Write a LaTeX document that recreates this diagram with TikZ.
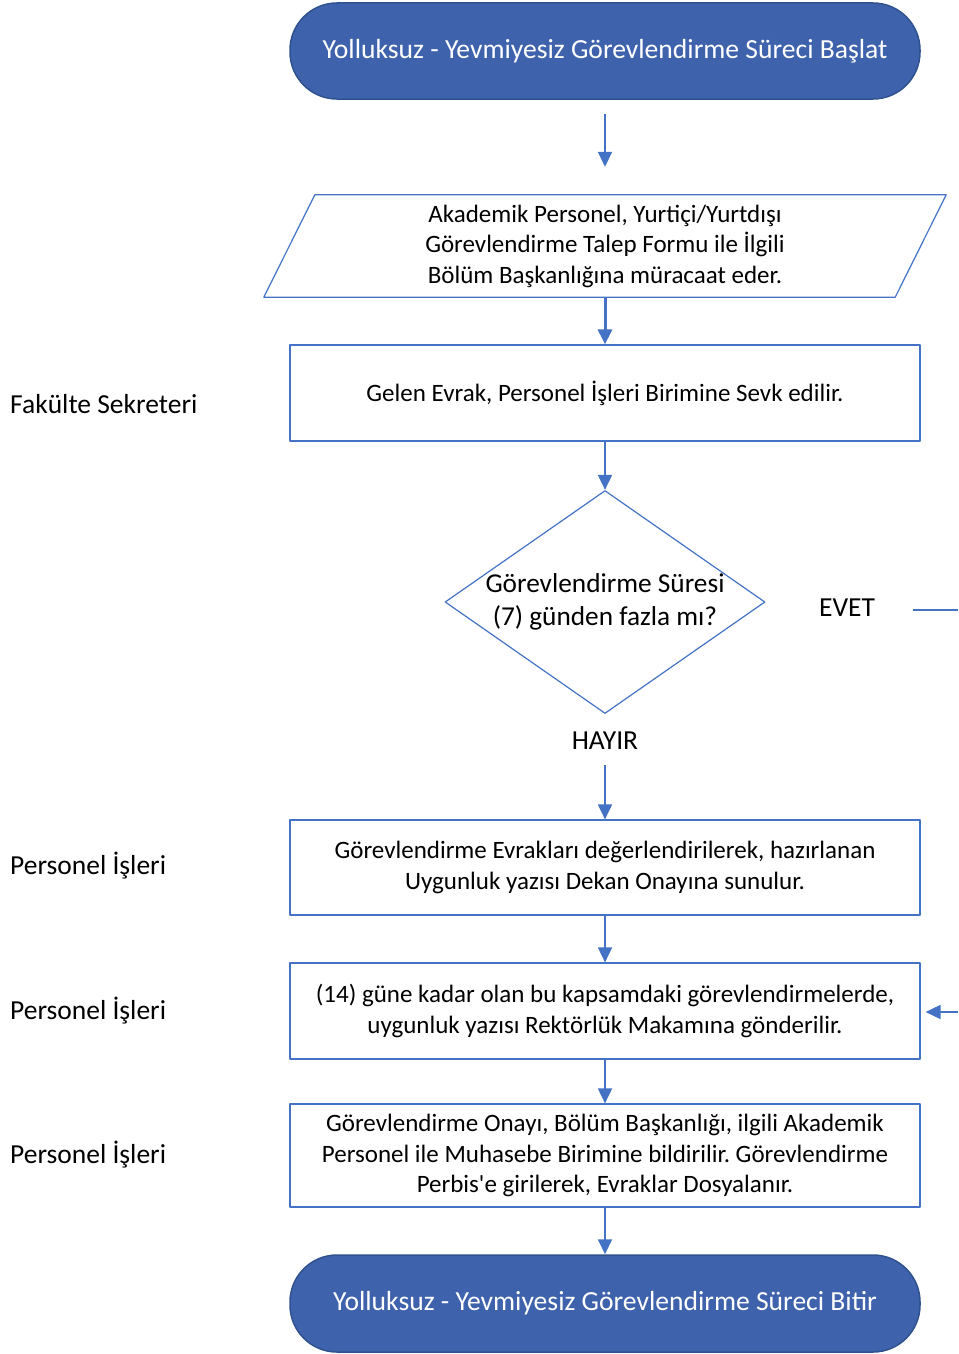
\documentclass[tikz,border=0pt]{standalone}
\usepackage{fontspec}
\setmainfont{Carlito}
\frenchspacing
\usetikzlibrary{shapes.geometric,arrows.meta,calc,positioning}
\definecolor{termblue}{RGB}{63,98,173}
\definecolor{termedge}{RGB}{47,82,143}
\definecolor{lineblue}{RGB}{68,114,196}
\begin{document}
\begin{tikzpicture}[x=1pt, y=-1pt, line join=round,
	term/.style={draw=termedge, line width=1.5pt, fill=termblue, text=white, rounded corners=47pt,
		minimum width=630pt, minimum height=96pt, font=\fontsize{27.6}{32}\selectfont},
	box/.style={draw=lineblue, line width=1.2pt, minimum width=630pt, minimum height=96pt,
		align=center, font=\fontsize{25}{30.5}\selectfont},
	dec/.style={draw=lineblue, line width=1.2pt, shape=diamond, aspect=1.43, inner sep=-3pt,
		minimum width=320pt, minimum height=223pt, align=center, font=\fontsize{27.3}{33}\selectfont},
	lane/.style={anchor=west, inner sep=0pt, font=\fontsize{27.5}{32}\selectfont},
	flow/.style={draw=lineblue, line width=1.8pt, -{Triangle[length=15pt,width=14pt]}}]
	\useasboundingbox (0,0) rectangle (958,1354);
	% akis kutulari
	\node[term] (start) at (605,51) {Yolluksuz - Yevmiyesiz Görevlendirme Süreci Başlat};
	\node[inner sep=0pt, minimum width=580pt, minimum height=102pt, align=center,
		font=\fontsize{25}{30.5}\selectfont] (form) at (605,246)
		{Akademik Personel, Yurtiçi/Yurtdışı\\Görevlendirme Talep Formu ile İlgili\\Bölüm Başkanlığına müracaat eder.};
	\draw[lineblue, line width=1.2pt] (form.north west) -- ($(form.north east)+(51,0)$)
		-- (form.south east) -- ($(form.south west)+(-51,0)$) -- cycle;
	\node[box] (sevk) at (605,393) {Gelen Evrak, Personel İşleri Birimine Sevk edilir.};
	\node[dec] (sure) at (605,602) {Görevlendirme Süresi\\(7) günden fazla mı?};
	\node[box, minimum height=95pt] (hazir) at (605,867.5)
		{Görevlendirme Evrakları değerlendirilerek, hazırlanan\\Uygunluk yazısı Dekan Onayına sunulur.};
	\node[box] (rektor) at (605,1011)
		{(14) güne kadar olan bu kapsamdaki görevlendirmelerde,\\uygunluk yazısı Rektörlük Makamına gönderilir.};
	\node[box, minimum height=103pt] (onay) at (605,1155.5)
		{Görevlendirme Onayı, Bölüm Başkanlığı, ilgili Akademik\\Personel ile Muhasebe Birimine bildirilir. Görevlendirme\\Perbis\textquotesingle e girilerek, Evraklar Dosyalanır.};
	\node[term, minimum height=97pt] (bitir) at (605,1303.5) {Yolluksuz - Yevmiyesiz Görevlendirme Süreci Bitir};
	% birimler
	\node[lane] (fak) at (10,404) {Fakülte Sekreteri};
	\node[lane] (per1) at (10,866) {Personel İşleri};
	\node[lane] (per2) at (10,1011) {Personel İşleri};
	\node[lane] (per3) at (10,1155) {Personel İşleri};
	\node[font=\fontsize{27.5}{32}\selectfont] (evet) at (847,608) {EVET};
	\node[font=\fontsize{27.5}{32}\selectfont] (hayir) at (605,741) {HAYIR};
	% oklar
	\coordinate (a1) at ($(start.south)+(0,14)$);
	\coordinate (a2) at ($(form.north)+(0,-28)$);
	\coordinate (h1) at ($(hayir.south)+(0,12)$);
	\coordinate (e1) at (913,610);
	\coordinate (e2) at (958,610);
	\coordinate (r1) at (958,1012);
	\draw[flow] (a1) -- (a2);
	\draw[flow, line width=3pt] (form.south) -- (sevk.north);
	\draw[flow] (sevk.south) -- (sure.north);
	\draw[flow] (h1) -- (hazir.north);
	\draw[flow] (hazir.south) -- (rektor.north);
	\draw[flow] (rektor.south) -- (onay.north);
	\draw[flow] (onay.south) -- (bitir.north);
	\draw[lineblue, line width=1.8pt] (e1) -- (e2);
	\draw[flow] (r1) -- ($(rektor.east)+(5,1)$);
\end{tikzpicture}
\end{document}
